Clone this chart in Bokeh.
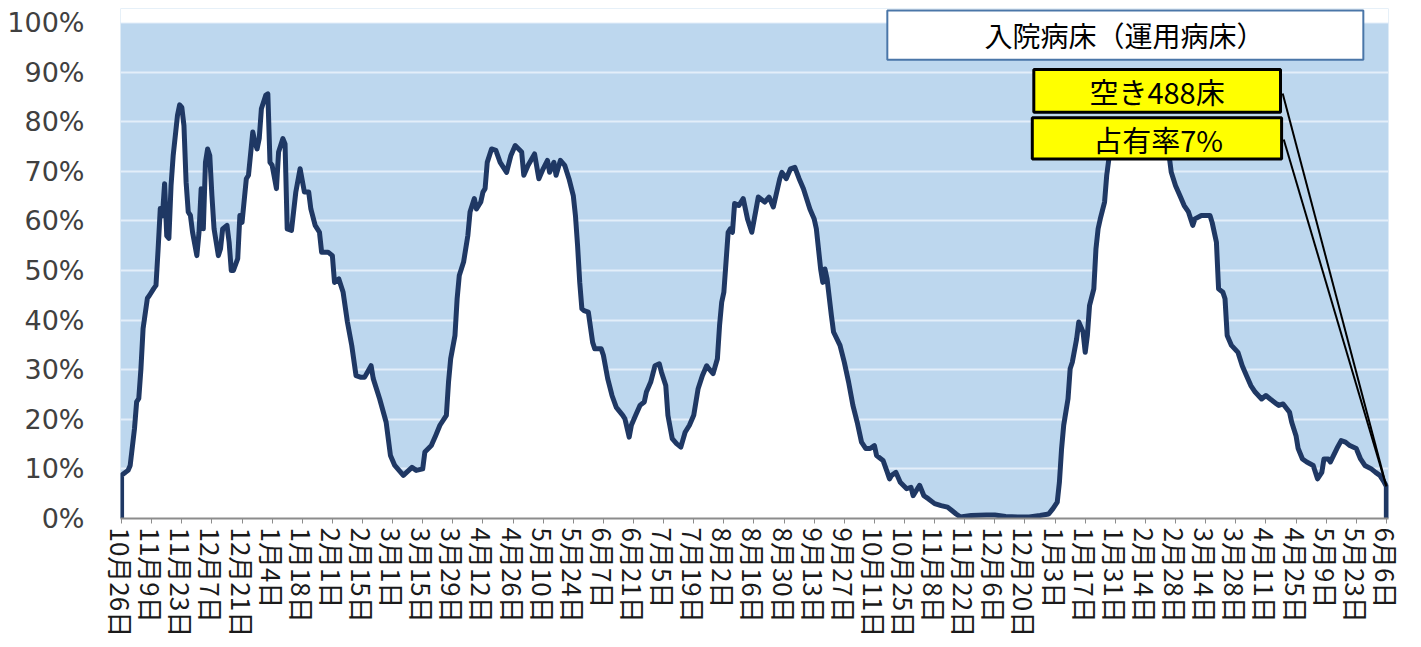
from bokeh.plotting import figure
from bokeh.models import FixedTicker, BoxAnnotation, Label, Arrow, Range1d
from bokeh.embed import file_html
from bokeh.resources import INLINE

# day offsets from 2020-10-26 and bed occupancy (%)
days = [0, 3, 4, 6, 7, 8, 9, 10, 12, 13, 15, 16, 17, 18, 19, 20, 21, 22, 23, 24,
        26, 27, 28, 29, 30, 31, 32, 33, 35, 36, 37, 38, 39, 40, 41, 42, 43, 45, 46, 47,
        49, 50, 51, 52, 54, 55, 56, 58, 59, 61, 62, 63, 64, 65, 67, 68, 69, 70, 72, 73,
        75, 76, 77, 79, 81, 83, 85, 87, 88, 90, 92, 93, 96, 98, 99, 101, 103, 105, 107, 109,
        111, 113, 116, 117, 120, 123, 125, 127, 131, 135, 137, 140, 141, 144, 146, 148, 151, 152, 153, 155,
        156, 157, 159, 161, 162, 164, 165, 167, 168, 169, 170, 172, 174, 176, 179, 181, 183, 186, 187, 189,
        192, 194, 196, 198, 199, 201, 202, 204, 206, 208, 210, 211, 212, 213, 214, 215, 217, 219, 220, 223,
        224, 226, 228, 230, 233, 234, 236, 237, 239, 241, 243, 244, 246, 248, 250, 251, 253, 254, 256, 258,
        260, 262, 264, 266, 268, 270, 272, 273, 275, 277, 278, 279, 280, 282, 283, 284, 285, 287, 289, 291,
        293, 295, 296, 299, 301, 303, 306, 307, 309, 311, 313, 315, 317, 320, 322, 323, 325, 326, 327, 328,
        330, 331, 334, 336, 338, 340, 342, 344, 346, 348, 350, 351, 354, 356, 357, 358, 360, 362, 365, 367,
        368, 371, 373, 375, 378, 381, 384, 386, 388, 390, 395, 402, 406, 411, 417, 422, 427, 431, 433, 435,
        436, 437, 438, 440, 441, 442, 444, 445, 447, 448, 449, 450, 452, 453, 454, 455, 457, 458, 459, 461,
        464, 467, 470, 473, 476, 478, 480, 482, 485, 487, 488, 490, 492, 494, 496, 498, 499, 502, 504, 506,
        507, 509, 510, 512, 513, 514, 516, 519, 521, 523, 525, 527, 530, 532, 534, 537, 538, 540, 543, 544,
        546, 547, 549, 551, 554, 556, 558, 559, 561, 562, 565, 567, 569, 571, 574, 576, 578, 581, 583, 585,
        587, 588]
occupancy = [8.7, 9.7, 10.7, 18.1, 23.5, 24.2, 30.2, 38.3, 44.4, 45.0, 46.4, 47.0, 54.4, 62.5, 61.0, 67.5, 57.0, 56.5, 67.1, 73.2,
             81.3, 83.4, 82.9, 79.2, 67.8, 61.8, 61.1, 57.7, 53.0, 57.7, 66.5, 58.4, 71.8, 74.5, 73.2, 65.1, 58.4, 53.0, 54.4, 58.4,
             59.1, 55.7, 50.0, 50.0, 52.4, 61.1, 59.7, 68.5, 69.2, 77.9, 75.9, 74.5, 76.6, 82.6, 85.3, 85.6, 71.8, 71.2, 66.5, 73.9,
             76.6, 75.5, 58.4, 58.1, 65.8, 70.5, 65.8, 65.8, 62.4, 59.1, 57.7, 53.7, 53.7, 53.0, 47.6, 48.3, 45.6, 39.6, 34.9, 28.8,
             28.5, 28.5, 30.8, 28.2, 24.1, 19.4, 12.7, 10.7, 8.7, 10.3, 9.7, 10.0, 13.4, 14.7, 16.7, 18.8, 20.8, 27.5, 32.2, 36.9,
             44.3, 49.0, 51.7, 57.1, 61.8, 64.5, 62.4, 63.8, 65.8, 66.5, 71.8, 74.5, 74.2, 71.8, 69.8, 73.2, 75.2, 73.9, 69.2, 71.2,
             73.5, 68.5, 70.5, 72.2, 69.8, 71.8, 69.2, 72.2, 71.2, 68.5, 65.1, 61.1, 55.0, 47.6, 42.3, 41.9, 41.6, 35.5, 34.2, 34.2,
             32.9, 28.2, 24.8, 22.4, 20.8, 20.1, 16.4, 18.8, 20.8, 22.8, 23.5, 25.5, 27.5, 30.8, 31.2, 29.5, 26.8, 20.8, 16.1, 15.1,
             14.4, 17.4, 18.8, 20.8, 26.1, 28.8, 30.8, 30.2, 29.2, 32.2, 38.9, 43.6, 45.6, 57.7, 58.4, 57.7, 63.5, 63.1, 64.5, 60.4,
             57.7, 62.4, 64.8, 63.8, 64.8, 62.8, 68.5, 69.8, 68.5, 70.5, 70.8, 68.5, 66.5, 62.4, 60.4, 58.4, 50.3, 47.6, 50.3, 48.3,
             40.9, 37.6, 34.9, 31.5, 27.5, 22.8, 19.4, 15.4, 14.1, 14.1, 14.7, 12.7, 11.7, 9.3, 8.0, 8.7, 9.3, 7.3, 6.0, 6.3,
             4.6, 6.7, 4.6, 4.0, 3.0, 2.6, 2.3, 1.6, 0.9, 0.3, 0.6, 0.7, 0.7, 0.4, 0.3, 0.3, 0.6, 0.9, 2.0, 3.3,
             7.3, 14.0, 18.8, 24.1, 30.2, 31.5, 36.2, 39.6, 37.6, 33.5, 36.9, 42.9, 46.3, 54.4, 58.4, 60.4, 63.8, 69.2, 72.5, 75.5,
             77.0, 78.0, 77.5, 76.5, 74.5, 73.2, 74.5, 76.0, 75.0, 73.2, 69.8, 67.1, 65.1, 63.1, 61.8, 59.1, 60.4, 61.1, 61.1, 61.1,
             59.7, 55.7, 46.3, 45.6, 44.3, 36.9, 34.9, 33.5, 30.8, 28.8, 26.8, 25.5, 24.1, 24.8, 24.1, 23.1, 22.8, 23.1, 21.4, 19.4,
             16.7, 14.1, 12.0, 11.4, 10.7, 8.0, 9.3, 12.0, 12.0, 11.4, 14.1, 15.7, 15.4, 14.7, 14.1, 12.0, 10.7, 10.0, 9.3, 8.7,
             7.3, 6.5]

tick_days = list(range(0, 589, 14))
tick_labels = ["10月26日", "11月9日", "11月23日", "12月7日", "12月21日", "1月4日", "1月18日",
               "2月1日", "2月15日", "3月1日", "3月15日", "3月29日", "4月12日", "4月26日",
               "5月10日", "5月24日", "6月7日", "6月21日", "7月5日", "7月19日", "8月2日",
               "8月16日", "8月30日", "9月13日", "9月27日", "10月11日", "10月25日", "11月8日",
               "11月22日", "12月6日", "12月20日", "1月3日", "1月17日", "1月31日", "2月14日",
               "2月28日", "3月14日", "3月28日", "4月11日", "4月25日", "5月9日", "5月23日", "6月6日"]
y_ticks = list(range(0, 101, 10))

title_text = "入院病床（運用病床）"
vacant_text = "空き488床"
rate_text = "占有率7%"

JP = "Noto Sans CJK JP"

p = figure(width=1408, height=644, output_backend="svg", toolbar_location=None,
           x_range=Range1d(-0.5, 589), y_range=Range1d(0, 102.82),
           min_border_left=120, min_border_right=20, min_border_top=8, min_border_bottom=126)
p.background_fill_color = "#BDD7EE"
p.border_fill_color = "white"
p.outline_line_color = None

# white strip above 100%
p.add_layout(BoxAnnotation(bottom=100, fill_color="white", fill_alpha=1.0,
                           line_color=None, level="underlay"))

p.xgrid.grid_line_color = None
p.ygrid.ticker = FixedTicker(ticks=y_ticks)
p.ygrid.grid_line_color = "#E3EEF9"
p.ygrid.grid_line_width = 2

p.varea(x=days, y1=0, y2=occupancy, fill_color="white")
p.line(x=[days[0]] + days + [days[-1]], y=[0] + occupancy + [0],
       line_color="#1F3864", line_width=5, line_join="round")

xa = p.xaxis[0]
xa.ticker = FixedTicker(ticks=tick_days)
xa.major_label_overrides = dict(zip(tick_days, tick_labels))
xa.major_label_orientation = "vertical"
xa.axis_line_color = "#8C8C8C"
xa.axis_line_width = 2
xa.major_tick_line_color = "#8C8C8C"
xa.major_tick_out = 5
xa.major_tick_in = 0
xa.minor_tick_line_color = None
xa.major_label_standoff = 4
xa.major_label_text_font = JP
xa.major_label_text_font_size = "26px"
xa.major_label_text_color = "#1A1A1A"

ya = p.yaxis[0]
ya.ticker = FixedTicker(ticks=y_ticks)
ya.major_label_overrides = {v: f"{v}%" for v in y_ticks}
ya.axis_line_color = None
ya.major_tick_line_color = None
ya.minor_tick_line_color = None
ya.major_tick_out = 0
ya.major_tick_in = 0
ya.major_label_standoff = 36
ya.major_label_text_font = "DejaVu Sans"
ya.major_label_text_font_size = "27px"
ya.major_label_text_color = "#404040"

# leader lines from the boxes to the last point
p.add_layout(Arrow(end=None, x_start=539.8, y_start=85.7, x_end=days[-1], y_end=occupancy[-1],
                   line_color="black", line_width=2))
p.add_layout(Arrow(end=None, x_start=540.3, y_start=76.4, x_end=days[-1], y_end=occupancy[-1],
                   line_color="black", line_width=2))

p.add_layout(BoxAnnotation(left=356.0, right=577.3, bottom=92.5, top=102.4,
                           fill_color="white", fill_alpha=1.0,
                           line_color="#4A76A8", line_alpha=1.0, line_width=2))
p.add_layout(Label(x=466.3, y=97.5, text=title_text, text_align="center", text_baseline="middle",
                   text_font=JP, text_font_size="28px", text_color="black"))

p.add_layout(BoxAnnotation(left=424.1, right=538.8, bottom=81.9, top=90.5,
                           fill_color="#FFFF00", fill_alpha=1.0,
                           line_color="black", line_alpha=1.0, line_width=3))
p.add_layout(Label(x=481.4, y=86.1, text=vacant_text, text_align="center", text_baseline="middle",
                   text_font=JP, text_font_size="29px", text_color="black"))

p.add_layout(BoxAnnotation(left=423.4, right=539.3, bottom=72.5, top=80.8,
                           fill_color="#FFFF00", fill_alpha=1.0,
                           line_color="black", line_alpha=1.0, line_width=3))
p.add_layout(Label(x=481.9, y=76.6, text=rate_text, text_align="center", text_baseline="middle",
                   text_font=JP, text_font_size="29px", text_color="black"))

open("out.html", "w").write(file_html(p, INLINE))
